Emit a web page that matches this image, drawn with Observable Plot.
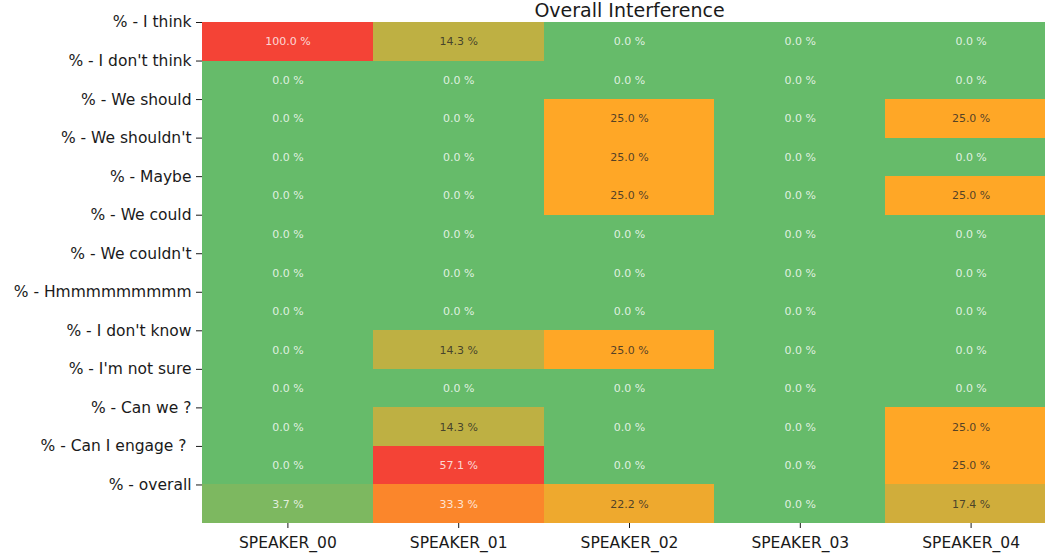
<!DOCTYPE html>
<html>
<head>
<meta charset="utf-8">
<script src="https://cdn.jsdelivr.net/npm/d3@7"></script>
<script src="https://cdn.jsdelivr.net/npm/@observablehq/plot@0.6"></script>
<style>
  html, body { margin: 0; padding: 0; background: #fff; overflow: hidden; }
  #chart { width: 1045px; height: 556px; overflow: hidden; }
  #chart svg { display: block; overflow: hidden; }
</style>
</head>
<body>
<div id="chart"></div>
<script>
const title = "Overall Interference";
const rows = [
  "% - I think", "% - I don't think", "% - We should", "% - We shouldn't",
  "% - Maybe", "% - We could", "% - We couldn't", "% - Hmmmmmmmmm",
  "% - I don't know", "% - I'm not sure", "% - Can we ?", "% - Can I engage ? ",
  "% - overall"
];
const speakers = ["SPEAKER_00", "SPEAKER_01", "SPEAKER_02", "SPEAKER_03", "SPEAKER_04"];
const speaker00 = [100.0, 0, 0, 0, 0, 0, 0, 0, 0, 0, 0, 0, 3.7];
const speaker01 = [14.3, 0, 0, 0, 0, 0, 0, 0, 14.3, 0, 14.3, 57.1, 33.3];
const speaker02 = [0, 0, 25.0, 25.0, 25.0, 0, 0, 0, 25.0, 0, 0, 0, 22.2];
const speaker03 = [0, 0, 0, 0, 0, 0, 0, 0, 0, 0, 0, 0, 0];
const speaker04 = [0, 0, 25.0, 0, 25.0, 0, 0, 0, 0, 0, 25.0, 25.0, 17.4];
const colorStops = [0, 25, 50, 100];
const colorRange = ["#66BB6A", "#FFA726", "#F44336", "#F44336"];

const series = [speaker00, speaker01, speaker02, speaker03, speaker04];
const data = [];
speakers.forEach((s, j) => rows.forEach((r, i) => data.push({speaker: s, row: r, value: series[j][i]})));

const colorFn = d3.scaleLinear().domain(colorStops).range(colorRange).interpolate(d3.interpolateRgb);
function lum(c) {
  const rgb = d3.rgb(c);
  const f = v => { v /= 255; return v <= 0.03928 ? v / 12.92 : Math.pow((v + 0.055) / 1.055, 2.4); };
  return 0.2126 * f(rgb.r) + 0.7152 * f(rgb.g) + 0.0722 * f(rgb.b);
}
const textColor = d => lum(colorFn(d.value)) > 0.42 ? "#262626" : "#ffffff";

const W = 1045, H = 556, mt = 22, mb = 33;
const bandH = (H - mt - mb) / rows.length;

const chart = Plot.plot({
  width: W,
  height: H,
  marginTop: mt,
  marginBottom: mb,
  marginLeft: 202,
  marginRight: -11,
  style: {fontFamily: "DejaVu Sans", background: "#fff", color: "#1a1a1a", overflow: "hidden", maxWidth: "none"},
  x: {type: "band", domain: speakers, padding: 0, round: false, label: null},
  y: {type: "band", domain: rows, padding: 0, round: false, label: null},
  color: {type: "linear", domain: colorStops, range: colorRange, interpolate: "rgb"},
  marks: [
    Plot.cell(data, {x: "speaker", y: "row", fill: "value", inset: 0, shapeRendering: "crispEdges"}),
    Plot.text(data, {x: "speaker", y: "row", text: d => d.value.toFixed(1) + " %",
      fill: textColor, fillOpacity: 0.8, fontSize: 11}),
    Plot.axisY({tickSize: 6, tickPadding: 5, fontSize: 15.5, dy: -bandH / 2, label: null}),
    Plot.axisX({tickSize: 5, tickPadding: 8, fontSize: 15.5, label: null}),
    Plot.text([title], {frameAnchor: "top", dy: -6, lineAnchor: "bottom", fontSize: 19, fill: "#1a1a1a"})
  ]
});
document.getElementById("chart").appendChild(chart);
</script>
</body>
</html>
